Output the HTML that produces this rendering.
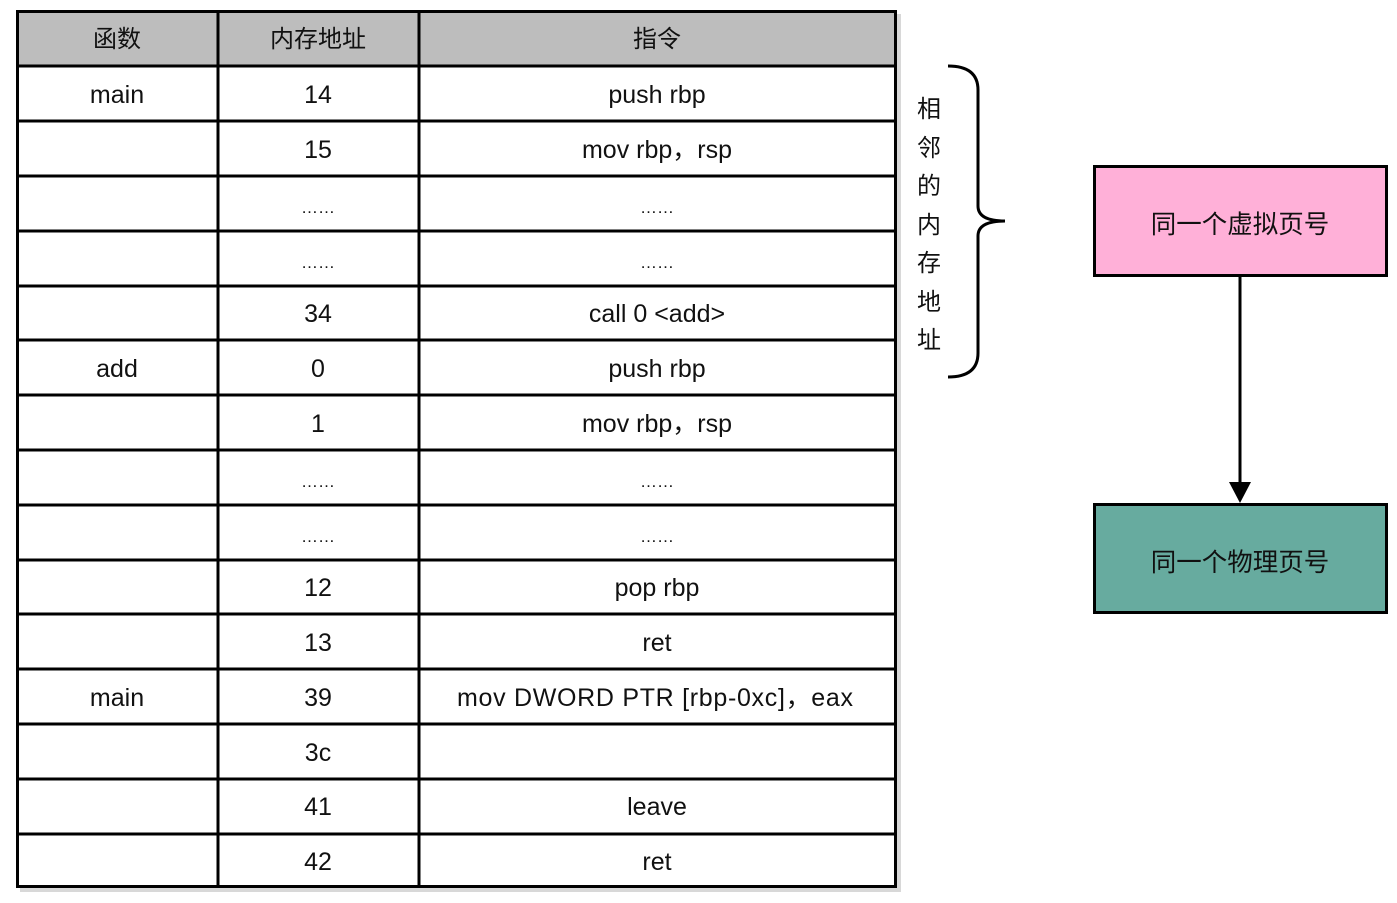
<!DOCTYPE html>
<html><head><meta charset="utf-8"><style>
html,body{margin:0;padding:0;background:#fff;}
svg{display:block;}
text{font-family:"Liberation Sans","Noto Sans CJK SC",sans-serif;fill:#111;}
</style></head><body>
<svg width="1397" height="903" viewBox="0 0 1397 903" xmlns="http://www.w3.org/2000/svg">
<rect x="20" y="14" width="881" height="878" fill="#d8d8d8"/>
<rect x="16" y="10" width="881" height="878" fill="#fff"/>
<rect x="16" y="10" width="881" height="56" fill="#bdbdbd"/>
<g stroke="#000" stroke-width="3" fill="none">
<rect x="17.5" y="11.5" width="878" height="875"/>
<line x1="218" y1="10" x2="218" y2="888"/>
<line x1="419" y1="10" x2="419" y2="888"/>
<line x1="16" y1="66" x2="897" y2="66"/>
<line x1="16" y1="121" x2="897" y2="121"/>
<line x1="16" y1="176" x2="897" y2="176"/>
<line x1="16" y1="231" x2="897" y2="231"/>
<line x1="16" y1="286" x2="897" y2="286"/>
<line x1="16" y1="340" x2="897" y2="340"/>
<line x1="16" y1="395" x2="897" y2="395"/>
<line x1="16" y1="450" x2="897" y2="450"/>
<line x1="16" y1="505" x2="897" y2="505"/>
<line x1="16" y1="560" x2="897" y2="560"/>
<line x1="16" y1="614" x2="897" y2="614"/>
<line x1="16" y1="669" x2="897" y2="669"/>
<line x1="16" y1="724" x2="897" y2="724"/>
<line x1="16" y1="779" x2="897" y2="779"/>
<line x1="16" y1="834" x2="897" y2="834"/>
</g>
<g font-size="25" text-anchor="middle">
<text x="117" y="47" font-size="24">函数</text><text x="318" y="47" font-size="24">内存地址</text><text x="657" y="47" font-size="24">指令</text>
<text x="117" y="103">main</text><text x="318" y="103">14</text><text x="657" y="103">push rbp</text>
<text x="318" y="158">15</text><text x="657" y="158">mov  rbp，rsp</text>
<text x="318" y="213" font-size="17">……</text><text x="657" y="213" font-size="17">……</text>
<text x="318" y="268" font-size="17">……</text><text x="657" y="268" font-size="17">……</text>
<text x="318" y="322">34</text><text x="657" y="322">call 0 &lt;add&gt;</text>
<text x="117" y="377">add</text><text x="318" y="377">0</text><text x="657" y="377">push rbp</text>
<text x="318" y="432">1</text><text x="657" y="432">mov  rbp，rsp</text>
<text x="318" y="487" font-size="17">……</text><text x="657" y="487" font-size="17">……</text>
<text x="318" y="542" font-size="17">……</text><text x="657" y="542" font-size="17">……</text>
<text x="318" y="596">12</text><text x="657" y="596">pop rbp</text>
<text x="318" y="651">13</text><text x="657" y="651">ret</text>
<text x="117" y="706">main</text><text x="318" y="706">39</text><text x="655" y="706" textLength="396">mov DWORD PTR [rbp-0xc]，eax</text>
<text x="318" y="761">3c</text>
<text x="318" y="815">41</text><text x="657" y="815">leave</text>
<text x="318" y="870">42</text><text x="657" y="870">ret</text>
</g>
<path d="M948 66 Q978 66 978 90 L978 206 Q978 221 1005 221 Q978 221 978 236 L978 353 Q978 377 948 377" stroke="#000" stroke-width="3" fill="none"/>
<g font-size="24" text-anchor="middle">
<text x="929" y="117">相</text><text x="929" y="156">邻</text><text x="929" y="194">的</text><text x="929" y="233">内</text><text x="929" y="271">存</text><text x="929" y="310">地</text><text x="929" y="348">址</text>
</g>
<rect x="1094.5" y="166.5" width="292" height="109" fill="#ffb0d8" stroke="#000" stroke-width="3"/>
<text x="1240" y="233" font-size="25.5" text-anchor="middle">同一个虚拟页号</text>
<line x1="1240" y1="277" x2="1240" y2="488" stroke="#000" stroke-width="3"/>
<polygon points="1229,482 1251,482 1240,503" fill="#000"/>
<rect x="1094.5" y="504.5" width="292" height="108" fill="#67ab9f" stroke="#000" stroke-width="3"/>
<text x="1240" y="571" font-size="25.5" text-anchor="middle">同一个物理页号</text>
</svg>
</body></html>
